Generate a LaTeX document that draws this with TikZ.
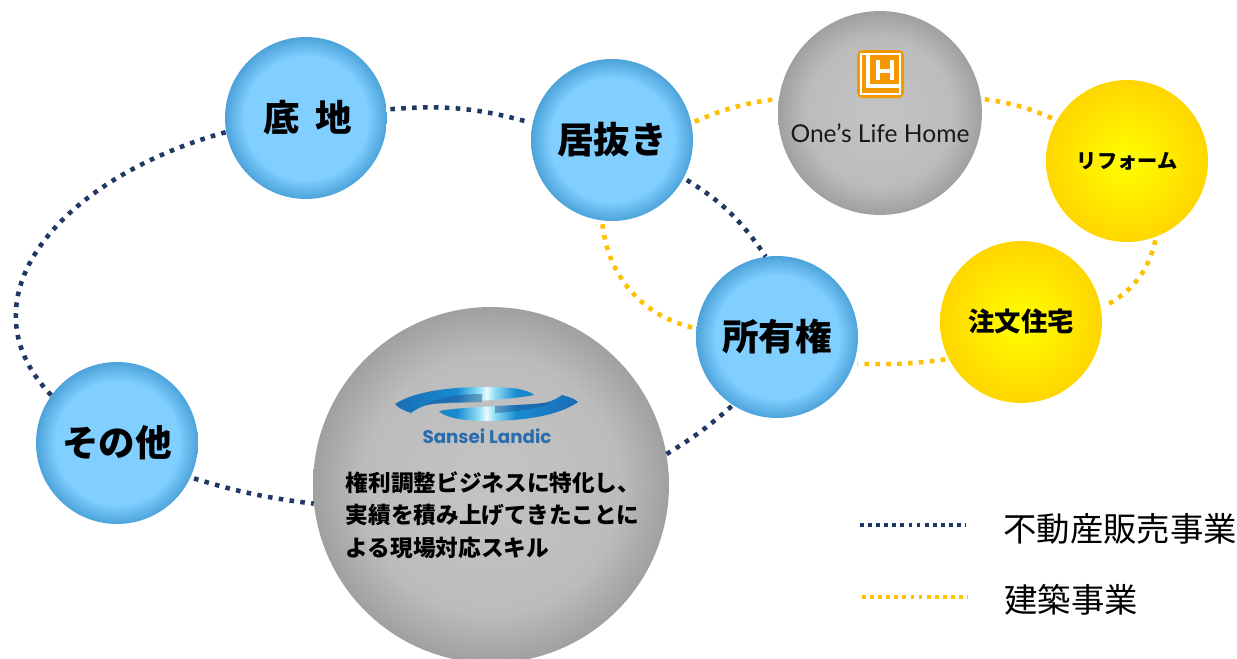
\documentclass[tikz,border=0pt]{standalone}
\usepackage{fontspec}
\newfontfamily\jpfont{Noto Sans CJK JP}
\newfontfamily\jpblack{Noto Sans CJK JP Black}
\newfontfamily\lifefont{Lato}
\newfontfamily\landicfont{Poppins}
\definecolor{BLdot}{HTML}{1F3864}
\definecolor{YLdot}{HTML}{FFC000}
\definecolor{LHorange}{HTML}{F39800}
\definecolor{LDblue}{HTML}{2A6CAE}
\definecolor{BLin}{HTML}{80CFFF}
\definecolor{BLrim}{HTML}{4CA3DA}
\definecolor{YLin}{HTML}{FFFF00}
\definecolor{YLrim}{HTML}{FFD600}
\definecolor{GYin}{HTML}{C4C4C4}
\definecolor{GYmid}{HTML}{BCBCBC}
\definecolor{GYrim}{HTML}{A0A0A0}
\definecolor{SWedge}{HTML}{1B6CB4}
\definecolor{SWmid}{HTML}{188CD0}
\definecolor{SWpale}{HTML}{96E1F5}
\definecolor{SWtop}{HTML}{EBFAFF}
\definecolor{SWdark}{HTML}{23508F}
\pgfdeclareradialshading{BLdisc}{\pgfpoint{0bp}{0bp}}{color(0bp)=(BLin); color(19bp)=(BLin); color(25bp)=(BLrim); color(50bp)=(BLrim)}
\pgfdeclareradialshading{YLdisc}{\pgfpoint{0bp}{0bp}}{color(0bp)=(YLin); color(25bp)=(YLrim); color(50bp)=(YLrim)}
\pgfdeclareradialshading{GYdisc}{\pgfpoint{0bp}{0bp}}{color(0bp)=(GYin); color(18bp)=(GYmid); color(25bp)=(GYrim); color(50bp)=(GYrim)}
\pgfdeclarehorizontalshading{SWshade}{100bp}{color(0bp)=(SWedge); color(25bp)=(SWedge); color(42bp)=(SWmid); color(48bp)=(SWpale); color(50bp)=(SWtop); color(52bp)=(SWpale); color(58bp)=(SWmid); color(75bp)=(SWedge); color(100bp)=(SWedge)}
\tikzset{BLnode/.style={shape=circle,shading=BLdisc,minimum size=3.24cm,inner sep=0pt,font=\jpfont\bfseries\fontsize{20.8}{24}\selectfont},
	YLnode/.style={shape=circle,shading=YLdisc,minimum size=3.24cm,inner sep=0pt,font=\jpfont\bfseries},
	GYnode/.style={shape=circle,shading=GYdisc,inner sep=0pt},
	BLline/.style={draw=BLdot,line width=2.6pt,dash pattern=on 2.6pt off 3.6pt},
	YLline/.style={draw=YLdot,line width=2.6pt,dash pattern=on 2.6pt off 3.6pt,shorten <=2pt,shorten >=2pt},
	KEYline/.style={line width=2.2pt,dash pattern=on 2.2pt off 2.4pt,shorten <=0pt,shorten >=0pt}}

\begin{document}
\begin{tikzpicture}[x=0.02cm,y=-0.02cm]
	\useasboundingbox (0,0) rectangle (1237,659);
	\node[BLnode] (sochi) at (306,118) {\hspace{2pt}底\hspace{0.42em}地};
	\node[BLnode] (inuki) at (612,140) {\raisebox{1pt}{居抜き}};
	\node[BLnode] (shoyu) at (777,337) {\raisebox{1.5pt}{所有権}};
	\node[BLnode] (sonota) at (117,443) {その他};
	\node[YLnode,font=\jpfont\bfseries\fontsize{11.5}{14}\selectfont] (reform) at (1127,161) {\raisebox{-1.5pt}{リフォーム}};
	\node[YLnode,font=\jpfont\bfseries\fontsize{15}{18}\selectfont] (chumon) at (1021,322) {注文住宅};
	\node[GYnode,minimum size=4.08cm] (life) at (880,113) {};
	\node[GYnode,minimum size=7.12cm] (sansei) at (491,485) {};
	% logo marks
	\fill[LHorange,rounded corners=3pt] (857,50) rectangle (904,98);
	\draw[white,line width=1.3pt] (861,54) rectangle (900,94);
	\draw[white,line width=1.8pt] (868,54) -- (868,86) -- (900,86);
	\draw[white,line width=1.8pt] (878,60) -- (878,80) (892,60) -- (892,80) (878,71) -- (892,71);
	\path[shading=SWshade] (395,404) .. controls (415,391) and (450,387) .. (487,387) .. controls (510,387) and (528,389) .. (534,395) .. controls (515,399) and (470,402) .. (440,403) .. controls (425,404) and (418,408) .. (411,413) .. controls (405,411) and (398,408) .. (395,404) -- cycle
	(578,402) .. controls (560,415) and (525,421) .. (487,421) .. controls (465,421) and (445,418) .. (439,411) .. controls (460,407) and (505,406) .. (535,404) .. controls (550,403) and (556,399) .. (562,395) .. controls (570,397) and (575,399) .. (578,402) -- cycle;
	\fill[SWdark,opacity=.45] (425,405) .. controls (440,396) and (465,394) .. (482,394) -- (482,402) .. controls (460,403) and (440,403) .. (425,405) -- cycle
	(552,402) .. controls (540,409) and (515,412) .. (495,413) -- (495,406) .. controls (515,405) and (535,404) .. (552,402) -- cycle;
	\node[text=LDblue,font=\landicfont\bfseries\fontsize{10.4}{12}\selectfont] (landic) at (487,436) {Sansei Landic};
	\node[text=black!90,font=\lifefont\fontsize{14}{17}\selectfont] (lifename) at (880,133) {One’s Life Home};
	\node[align=left,font=\jpblack\fontsize{12.9}{18.4}\selectfont] (skill) at (493,515) {権利調整ビジネスに特化し、\\実績を積み上げてきたことに\\よる現場対応スキル};
	% legend
	\coordinate (bl1) at (860,525);
	\coordinate (bl2) at (966,525);
	\coordinate (yl1) at (862,597);
	\coordinate (yl2) at (968,597);
	\node[anchor=west,inner sep=0pt,font=\jpfont\fontsize{19}{23}\selectfont] (hanbai) at (1003,529) {不動産販売事業};
	\node[anchor=west,inner sep=0pt,font=\jpfont\fontsize{19}{23}\selectfont] (kenchiku) at (1004,600) {建築事業};
	%
	\path[BLline]
	(sochi.6) edge[bend left=10,shorten <=2pt,shorten >=2pt] (inuki.168)
	(inuki.-28) edge[bend left=12,shorten <=2pt] (shoyu.98)
	(sansei.10.5) edge[bend right=5] (shoyu.-123)
	(sonota.-25) edge[bend right=5,shorten <=2pt] (sansei.186)
	(bl1) edge[KEYline] (bl2);
	\draw[BLline] (sonota.144) .. controls (-42,298) and (60,178) .. (sochi.190);
	\path[YLline]
	(inuki.12) edge[bend left=8] (life.172)
	(life.8) edge[bend left=8] (reform.150)
	(reform.-69) edge[bend left=25] (chumon.10)
	(chumon.207) edge[bend left=5] (shoyu.-19)
	(inuki.-97.5) edge[bend right=35] (shoyu.174)
	(yl1) edge[KEYline] (yl2);
\end{tikzpicture}
\end{document}
